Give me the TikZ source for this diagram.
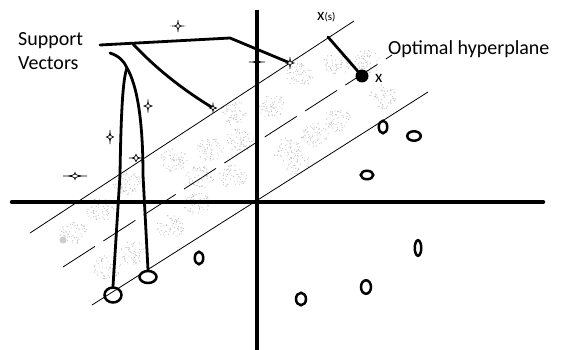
\documentclass[tikz,border=0pt]{standalone}
\usepackage{fontspec}
\setmainfont{Carlito}
\usepackage{tikz}
\usetikzlibrary{shapes.geometric}

\tikzset{
  axis/.style={line width=4.5pt, line cap=round},
  margin line/.style={line width=0.8pt},
  pointer/.style={line width=2.8pt, line cap=round, line join=round},
  sample/.style={draw, ellipse, line width=2.5pt, inner sep=0pt},
  label text/.style={inner sep=0pt, font=\fontsize{20}{24}\selectfont},
  sparkle/.pic={
    \draw[line width=0.7pt, fill=white] (-4,0) .. controls (-1,0) and (0,-1) .. (0,-6)
      .. controls (0,-1) and (1,0) .. (4,0) .. controls (1,0) and (0,1) .. (0,6)
      .. controls (0,1) and (-1,0) .. (-4,0) -- cycle;
  },
}

\begin{document}
\begin{tikzpicture}[x=1pt, y=-1pt]
  \useasboundingbox (0,0) rectangle (562,350);

  \pgfmathsetseed{11}
  \begin{scope}
    \clip (30,233) -- (354,21) -- (428,92) -- (92,305) -- cycle;
    \foreach \cx/\cy in {233/113, 210/150, 173/160, 273/107, 300/75, 337/63, 367/62,
        383/97, 337/120, 287/150, 300/167, 100/210, 73/233, 107/267, 133/253,
        170/227, 197/203, 200/177, 233/177, 127/183, 240/140, 315/135} {
      \foreach \k in {1,...,65} {
        \pgfmathsetmacro\ang{360*rnd}
        \pgfmathsetmacro\rad{14*sqrt(rnd)}
        \fill[gray!50] ({\cx+\rad*cos(\ang)},{\cy+0.85*\rad*sin(\ang)}) circle (0.55);
      }
    }
    \fill[gray!40] (63,240) circle (3.5);
  \end{scope}

  \draw[margin line] (30,233) -- (354,21);
  \draw[margin line, dash pattern=on 38pt off 10pt] (63,267) -- (392,55);
  \draw[margin line] (92,305) -- (428,92);

  \pic[xscale=2, yscale=0.5] at (257,62) {sparkle};
  \draw[axis] (12,202) -- (543,202);
  \draw[axis, line cap=butt] (257,10) -- (257,350);

  \pic[xscale=1.2] at (178,26) {sparkle};
  \pic[yscale=1.1] at (148,106) {sparkle};
  \pic[xscale=0.9, yscale=1.2] at (110,137) {sparkle};
  \pic[xscale=3, yscale=0.6] at (75,176) {sparkle};
  \pic[xscale=1.8, yscale=0.6] at (136,158) {sparkle};

  \node[sample, minimum width=17, minimum height=15] (c1) at (113,295) {};
  \node[sample, minimum width=17, minimum height=12] (c2) at (148,277) {};
  \node[sample, minimum width=8.5, minimum height=12.5] (c3) at (199,258) {};
  \node[sample, minimum width=10, minimum height=12.5] (c4) at (301,299) {};
  \node[sample, minimum width=10, minimum height=13.5] (c5) at (366,287) {};
  \node[sample, minimum width=6.5, minimum height=15.5] (c6) at (418,248) {};
  \node[sample, minimum width=12.5, minimum height=8.5] (c7) at (367,175) {};
  \node[sample, minimum width=8.5, minimum height=12.5] (c8) at (383,127) {};
  \node[sample, minimum width=13.5, minimum height=9.5] (c9) at (414,136) {};

  \node[circle, fill, inner sep=0pt, minimum size=13] (xpt) at (362,76) {};

  \node[label text, anchor=north west, align=left] (sv) at (18,32) {Support\\Vectors};
  \node[label text, anchor=base west] (hyp) at (388,55) {Optimal hyperplane};
  \node[inner sep=0pt, anchor=base west] (xslab) at (317,21)
    {\fontsize{17}{17}\selectfont x\fontsize{11}{11}\selectfont(s)};
  \node[inner sep=0pt, anchor=base west, font=\fontsize{17}{17}\selectfont] (xlab) at (375,83) {x};

  \coordinate (svA) at (213,108);
  \coordinate (svB) at (290,63);
  \coordinate (arm) at (100,45);
  \coordinate (bend) at (230,38);
  \coordinate (fork) at (133,44);
  \coordinate (loop) at (110,53);
  \coordinate (crest) at (127,68);
  \coordinate (xs) at (328,37);

  \draw[pointer] (arm) -- (bend) -- (svB);
  \draw[pointer] (fork) .. controls (150,62) and (175,85) .. (svA);
  \draw[pointer] (loop) .. controls (119,56) and (124,61) .. (crest)
    .. controls (137,85) and (143,120) .. (143,175) -- (c2.north);
  \draw[pointer] (crest) .. controls (123,78) and (121,110) .. (120,175) -- (c1.north);
  \draw[pointer] (xs) -- (xpt);

  \pic[scale=0.9] at (svA) {sparkle};
  \pic at (svB) {sparkle};
\end{tikzpicture}
\end{document}
